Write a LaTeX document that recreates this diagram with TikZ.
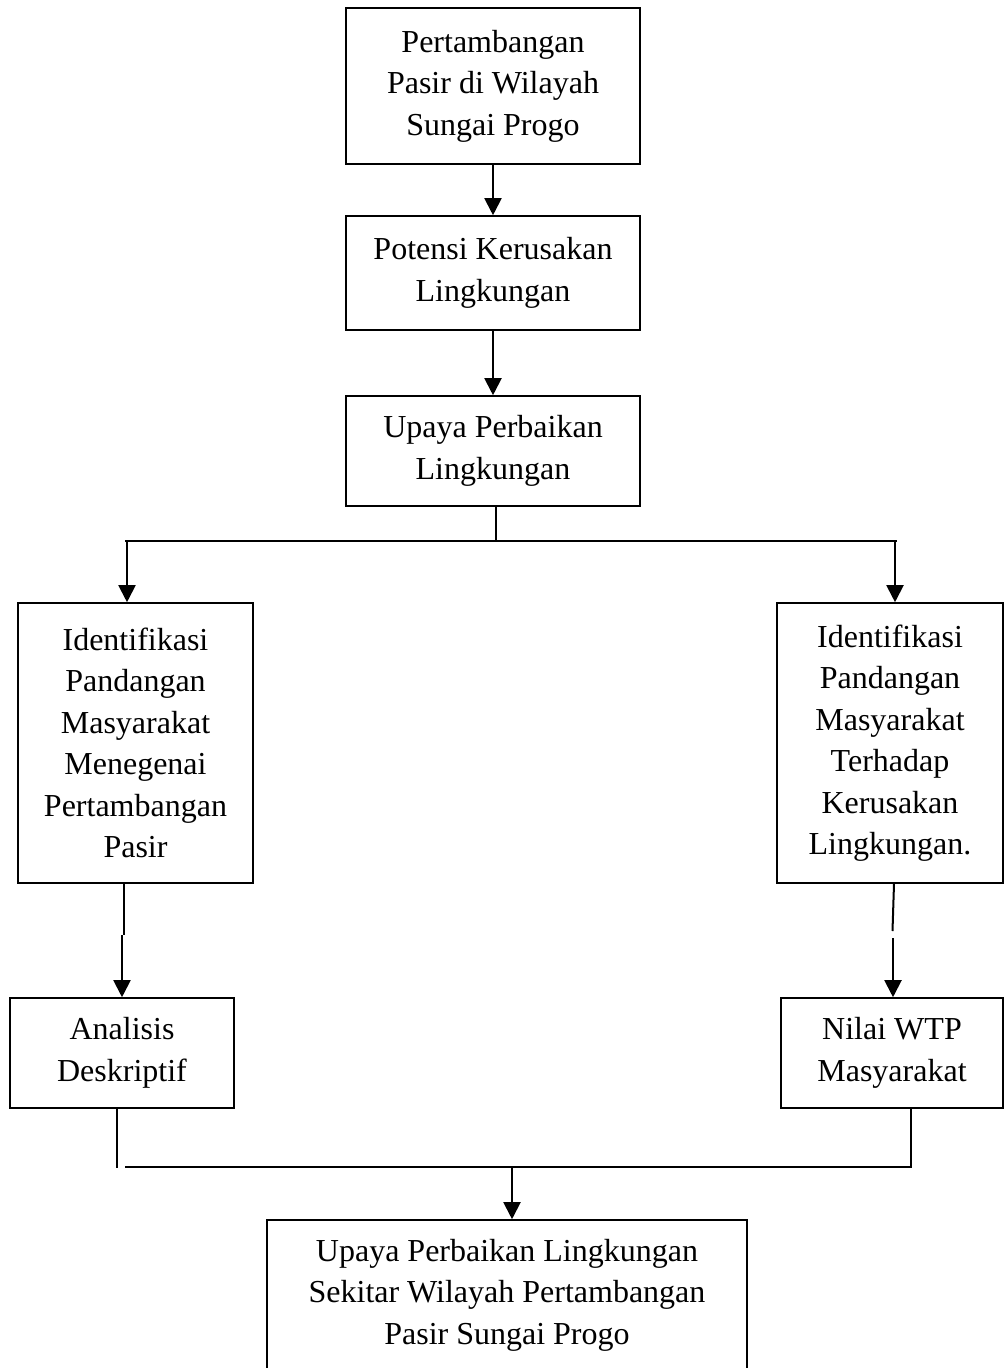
\documentclass[tikz,border=0pt]{standalone}
\usepackage{fontspec}
\setmainfont{Liberation Serif}
\usetikzlibrary{arrows.meta}
\begin{document}
\begin{tikzpicture}[x=1pt,y=-1pt,
  box/.style={draw,line width=1.6pt,align=center,inner sep=0pt,
    font=\fontsize{32}{41.5}\selectfont},
  conn/.style={line width=2pt},
  arr/.style={line width=2pt,-{Triangle[length=17pt,width=17pt]}}]
\useasboundingbox (0,0) rectangle (1004,1368);
\fill[white] (0,0) rectangle (1004,1368);
\node[box,minimum width=294pt,minimum height=156pt] (b1) at (493,86)
  {Pertambangan\\Pasir di Wilayah\\Sungai Progo};
\node[box,minimum width=294pt,minimum height=114pt] (b2) at (493,273)
  {Potensi Kerusakan\\Lingkungan};
\node[box,minimum width=294pt,minimum height=110pt] (b3) at (493,451)
  {Upaya Perbaikan\\Lingkungan};
\node[box,minimum width=235pt,minimum height=280pt] (l1) at (135.5,743)
  {Identifikasi\\Pandangan\\Masyarakat\\Menegenai\\Pertambangan\\Pasir};
\node[box,minimum width=226pt,minimum height=280pt] (r1) at (890,743)
  {Identifikasi\\Pandangan\\Masyarakat\\Terhadap\\Kerusakan\\Lingkungan.};
\node[box,minimum width=224pt,minimum height=110pt] (l2) at (122,1053)
  {Analisis\\Deskriptif};
\node[box,minimum width=222pt,minimum height=110pt] (r2) at (892,1053)
  {Nilai WTP\\Masyarakat};
\node[box,minimum width=480pt,minimum height=150pt] (b4) at (507,1295)
  {Upaya Perbaikan Lingkungan\\Sekitar Wilayah Pertambangan\\Pasir Sungai Progo};
% connectors
\draw[arr] (b1.south) -- (b2.north);
\draw[arr] (b2.south) -- (b3.north);
\coordinate (j1) at (496,541);
\coordinate (hL) at (127,541);
\coordinate (hR) at (895,541);
\draw[conn] (b3.south -| j1) -- (j1);
\draw[conn] (125,541) -- (897,541);
\draw[arr] (hL) -- (hL |- l1.north);
\draw[arr] (hR) -- (hR |- r1.north);
% left down
\coordinate (lm) at (123.5,935);
\coordinate (lm2) at (122,935);
\draw[conn] (l1.south -| lm) -- (lm);
\draw[arr] (lm2) -- (lm2 |- l2.north);
% right down
\coordinate (rm) at (892.5,931);
\coordinate (rm2) at (893,938);
\draw[conn] (r1.south -| 894,0) -- (rm);
\draw[arr] (rm2) -- (rm2 |- r2.north);
% bottom merge
\coordinate (bl) at (117,1168);
\coordinate (br) at (911,1167);
\coordinate (bm) at (512,1166);
\draw[conn] (l2.south -| bl) -- (bl);
\draw[conn] (125,1167) -- (br) -- (r2.south -| br);
\draw[arr] (bm) -- (bm |- b4.north);
\end{tikzpicture}
\end{document}
